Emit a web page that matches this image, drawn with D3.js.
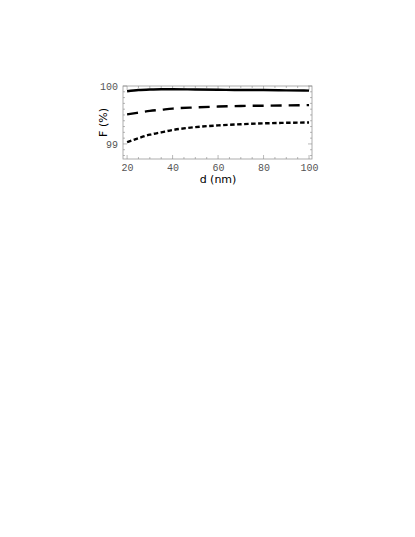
<!DOCTYPE html>
<html>
<head>
<meta charset="utf-8">
<script src="https://cdn.jsdelivr.net/npm/d3@7"></script>
<style>
  body { margin: 0; background: #fff; }
  svg { display: block; }
</style>
</head>
<body>
<svg id="chart" width="415" height="537"></svg>
<script>
// film thickness d (nm)
const thickness = [20, 25, 30, 35, 40, 50, 60, 70, 80, 90, 100]
// fidelity F (%) for the three curves
const fidSolid  = [99.91, 99.93, 99.94, 99.945, 99.945, 99.94, 99.935, 99.93, 99.93, 99.925, 99.92]
const fidDashed = [99.51, 99.54, 99.57, 99.59, 99.61, 99.63, 99.645, 99.655, 99.66, 99.665, 99.67]
const fidDotted = [99.03, 99.10, 99.16, 99.20, 99.24, 99.29, 99.32, 99.34, 99.355, 99.365, 99.37]
const xTicks = [20, 40, 60, 80, 100]
const yTicks = [99, 100]

const frame = {left: 123, right: 312, top: 86, bottom: 159}
const svg = d3.select('#chart')

const xScale = d3.scaleLinear()
  .domain([18.2, 101.3])
  .range([frame.left, frame.right])
const yScale = d3.scaleLinear()
  .domain([98.74, 100])
  .range([frame.bottom, frame.top])

const tickColor = '#8a8a8a'

// frame
svg.append('rect')
  .attr('x', frame.left).attr('y', frame.top)
  .attr('width', frame.right - frame.left)
  .attr('height', frame.bottom - frame.top)
  .attr('fill', 'none')
  .attr('stroke', '#9a9a9a')
  .attr('stroke-width', 0.8)

// minor ticks on all four sides
const xMinor = d3.range(20, 101, 5)
const yMinor = d3.range(98.8, 100.001, 0.1)
const ticks = svg.append('g').attr('stroke', tickColor).attr('stroke-width', 0.6)
xMinor.forEach(v => {
  const len = xTicks.includes(v) ? 4 : 2
  const x = xScale(v)
  ticks.append('line').attr('x1', x).attr('x2', x).attr('y1', frame.bottom).attr('y2', frame.bottom - len)
  ticks.append('line').attr('x1', x).attr('x2', x).attr('y1', frame.top).attr('y2', frame.top + len)
})
yMinor.forEach(v => {
  const major = yTicks.some(t => Math.abs(t - v) < 1e-6)
  const len = major ? 4 : 2
  const y = yScale(v)
  ticks.append('line').attr('x1', frame.left).attr('x2', frame.left + len).attr('y1', y).attr('y2', y)
  ticks.append('line').attr('x1', frame.right).attr('x2', frame.right - len).attr('y1', y).attr('y2', y)
})

const tickFont = g => g.selectAll('text')
  .attr('fill', '#555')
  .style('font-family', 'Liberation Mono, DejaVu Sans Mono, monospace')
  .style('font-size', '10px')

// tick labels
const xAxis = d3.axisBottom(xScale).tickValues(xTicks).tickFormat(d3.format('d')).tickSize(0).tickPadding(5)
svg.append('g')
  .attr('transform', `translate(0,${frame.bottom})`)
  .call(xAxis)
  .call(g => g.select('.domain').remove())
  .call(tickFont)

const yAxis = d3.axisLeft(yScale).tickValues(yTicks).tickFormat(d3.format('d')).tickSize(0).tickPadding(5)
svg.append('g')
  .attr('transform', `translate(${frame.left},0)`)
  .call(yAxis)
  .call(g => g.select('.domain').remove())
  .call(tickFont)

// axis titles
svg.append('text')
  .attr('x', 218).attr('y', 183)
  .attr('text-anchor', 'middle')
  .style('font-family', 'DejaVu Sans, sans-serif')
  .style('font-size', '11px')
  .style('font-weight', '500')
  .text('d (nm)')

svg.append('text')
  .attr('transform', `translate(107,${(frame.top + frame.bottom) / 2}) rotate(-90)`)
  .attr('text-anchor', 'middle')
  .style('font-family', 'DejaVu Sans, sans-serif')
  .style('font-size', '11px')
  .text('F (%)')

// curves
const series = [
  {values: fidSolid, dash: null},
  {values: fidDashed, dash: '11,7'},
  {values: fidDotted, dash: '4.5,2.5'}
]
const line = d3.line()
  .x(d => xScale(d[0]))
  .y(d => yScale(d[1]))
  .curve(d3.curveMonotoneX)

series.forEach(s => {
  svg.append('path')
    .datum(thickness.map((d, i) => [d, s.values[i]]))
    .attr('d', line)
    .attr('fill', 'none')
    .attr('stroke', '#000')
    .attr('stroke-width', 2.4)
    .attr('stroke-dasharray', s.dash)
})
</script>
</body>
</html>
